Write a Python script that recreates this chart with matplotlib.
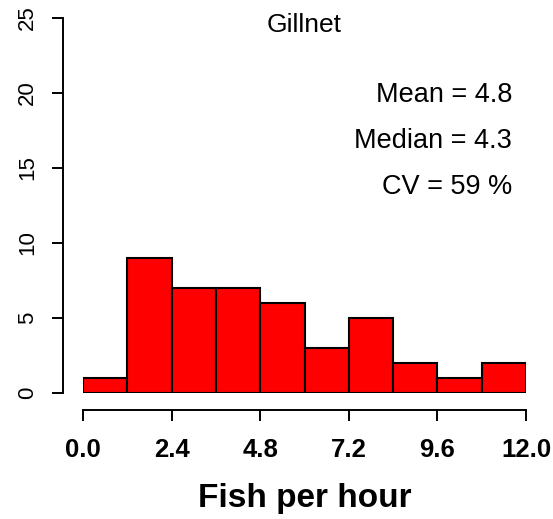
import numpy as np
import matplotlib
matplotlib.use("Agg")
from matplotlib import pyplot as plt

# histogram of catch rates for the gillnet gear
bin_edges = [0.0, 1.2, 2.4, 3.6, 4.8, 6.0, 7.2, 8.4, 9.6, 10.8, 12.0]
counts = [1, 9, 7, 7, 6, 3, 5, 2, 1, 2]
x_ticks = [0.0, 2.4, 4.8, 7.2, 9.6, 12.0]
y_ticks = [0, 5, 10, 15, 20, 25]
gear = "Gillnet"
stats = ["Mean = 4.8", "Median = 4.3", "CV = 59 %"]

fig = plt.figure(figsize=(5.53, 5.19), dpi=100)
ax = fig.add_axes([83 / 553, 126 / 519, 443 / 553, 375 / 519])

widths = np.diff(bin_edges)
ax.bar(bin_edges[:-1], counts, width=widths, align="edge",
       color="#ff0000", edgecolor="black", linewidth=1.5)

ax.set_xlim(0, 12)
ax.set_ylim(0, 25)

# R style detached axes
for s in ["top", "right"]:
    ax.spines[s].set_visible(False)
ax.spines["left"].set_position(("outward", 14.4))
ax.spines["bottom"].set_position(("outward", 12.2))
ax.spines["left"].set_bounds(0, 25)
ax.spines["bottom"].set_bounds(0, 12)
for s in ["left", "bottom"]:
    ax.spines[s].set_linewidth(1.4)

ax.set_xticks(x_ticks)
ax.set_xticklabels(["%.1f" % v for v in x_ticks],
                   family="Liberation Sans", fontweight="bold", fontsize=18.5)
ax.set_yticks(y_ticks)
ax.set_yticklabels([str(v) for v in y_ticks], rotation=90, va="center",
                   family="Liberation Sans", fontsize=16)
ax.tick_params(axis="both", length=8, width=1.4, direction="out")
ax.tick_params(axis="x", pad=12)
ax.tick_params(axis="y", pad=10)

ax.set_xlabel("Fish per hour", family="Liberation Sans", fontweight="bold",
              fontsize=24, labelpad=15)

ax.text(6.0, 24.1, gear, ha="center", va="baseline",
        family="Liberation Sans", fontsize=19)
for i, s in enumerate(stats):
    ax.text(11.62, 19.4 - 3.05 * i, s, ha="right", va="baseline",
            family="Liberation Sans", fontsize=19.5)

fig.savefig("out.png", dpi=100)
